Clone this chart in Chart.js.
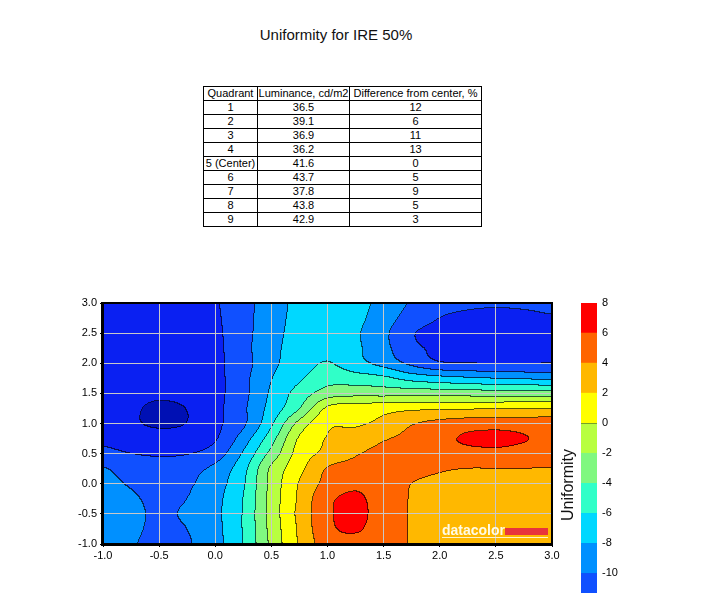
<!DOCTYPE html>
<html>
<head>
<meta charset="utf-8">
<script src="https://cdn.jsdelivr.net/npm/chart.js@4.4.1/dist/chart.umd.min.js"></script>
<style>
body { margin: 0; width: 710px; height: 607px; background: #fff; position: relative; overflow: hidden;
       font-family: 'Liberation Sans', Arial, sans-serif; }
#title { position: absolute; left: 0; width: 672px; top: 26px; text-align: center; font-size: 15px; color: #111; }
#tbl { position: absolute; left: 203px; top: 86px; border-collapse: collapse; table-layout: fixed; width: 278px; font-size: 11px; color: #000; }
#tbl td { border: 1px solid #000; padding: 0; height: 13px; line-height: 13px; text-align: center; white-space: nowrap; overflow: hidden; }
#plot { position: absolute; left: 40px; top: 290px; }
#bar { position: absolute; left: 555px; top: 290px; }
#cbTitle { position: absolute; left: 568px; top: 485px; transform: translate(-50%, -50%) rotate(-90deg);
           font-size: 16px; color: #111; white-space: nowrap; }
</style>
</head>
<body>
<div id="title">Uniformity for IRE 50%</div>
<table id="tbl">
  <colgroup><col style="width:54px"><col style="width:92px"><col style="width:132px"></colgroup>
  <tbody id="tblBody"></tbody>
</table>
<canvas id="plot" width="530" height="280"></canvas>
<canvas id="bar" width="155" height="317"></canvas>
<div id="cbTitle">Uniformity</div>

<script>
// table values
const tableHead = ['Quadrant', 'Luminance, cd/m2', 'Difference from center, %'];
const quadrants = ['1', '2', '3', '4', '5 (Center)', '6', '7', '8', '9'];
const luminance = ['36.5', '39.1', '36.9', '36.2', '41.6', '43.7', '37.8', '43.8', '42.9'];
const difference = ['12', '6', '11', '13', '0', '5', '9', '5', '3'];

// contour field on a 0.25 grid (rows go top to bottom)
const xGrid = [-1, -0.75, -0.5, -0.25, 0, 0.25, 0.5, 0.75, 1, 1.25, 1.5, 1.75, 2, 2.25, 2.5, 2.75, 3];
const yGrid = [3, 2.75, 2.5, 2.25, 2, 1.75, 1.5, 1.25, 1, 0.75, 0.5, 0.25, 0, -0.25, -0.5, -0.75, -1];
const uniformity = [
  [-13.0, -13.1, -13.1, -12.9, -12.2, -10.7, -9.0, -7.5, -7.0, -7.4, -8.6, -10.2, -11.0, -11.5, -11.7, -11.6, -11.4],
  [-13.1, -13.2, -13.3, -13.0, -12.3, -10.7, -8.9, -7.4, -6.9, -7.5, -9.0, -10.9, -12.0, -12.6, -12.8, -12.6, -12.2],
  [-13.2, -13.3, -13.4, -13.1, -12.4, -10.7, -8.75, -7.3, -6.7, -7.7, -9.5, -11.8, -12.5, -13.1, -13.4, -13.3, -12.9],
  [-13.2, -13.4, -13.5, -13.2, -12.5, -10.65, -8.6, -7.2, -6.6, -7.6, -9.4, -11.5, -12.4, -13.0, -13.2, -13.1, -12.7],
  [-13.1, -13.3, -13.4, -13.2, -12.5, -10.8, -8.5, -7.0, -5.9, -7.3, -8.7, -10.5, -11.8, -12.0, -12.1, -12.1, -12.0],
  [-13.0, -13.3, -13.4, -13.1, -12.6, -10.6, -8.1, -6.3, -4.8, -5.1, -5.6, -6.8, -7.4, -7.8, -8.1, -8.3, -8.5],
  [-12.9, -13.3, -13.6, -13.3, -12.6, -10.6, -7.7, -5.2, -3.1, -2.7, -2.8, -2.8, -2.9, -3.0, -3.1, -3.1, -3.2],
  [-12.8, -13.6, -14.4, -13.95, -12.6, -10.4, -7.3, -4.1, 0.3, 0.9, 1.2, 1.5, 1.6, 1.7, 1.8, 1.8, 1.9],
  [-12.7, -13.6, -14.4, -13.95, -12.5, -10.4, -6.4, -1.4, 1.6, 1.7, 2.5, 3.8, 4.5, 4.9, 5.0, 5.0, 5.0],
  [-12.4, -12.9, -13.0, -13.0, -12.2, -9.1, -4.9, 0.2, 2.1, 2.9, 3.8, 4.5, 5.4, 6.3, 6.6, 6.1, 5.6],
  [-11.5, -12.0, -12.2, -12.1, -11.1, -7.8, -3.4, 0.8, 2.5, 3.8, 4.5, 4.7, 5.0, 5.3, 5.4, 5.2, 5.0],
  [-9.9, -10.9, -11.3, -10.7, -9.5, -6.7, -1.7, 1.4, 4.1, 4.7, 4.9, 4.6, 4.2, 4.0, 4.0, 4.0, 3.95],
  [-9.4, -10.2, -10.9, -10.3, -8.9, -6.3, -1.5, 2.1, 4.6, 5.6, 5.0, 4.0, 3.6, 3.4, 3.3, 3.3, 3.3],
  [-9.2, -9.7, -10.5, -10.0, -8.6, -6.0, -1.3, 2.3, 5.5, 6.3, 5.1, 3.9, 3.5, 3.2, 3.1, 3.1, 3.1],
  [-9.1, -9.5, -10.3, -9.7, -8.5, -5.9, -1.3, 2.5, 5.6, 6.5, 5.1, 3.9, 3.5, 3.2, 3.1, 3.1, 3.1],
  [-9.2, -9.6, -10.4, -10.0, -8.6, -5.9, -1.4, 2.3, 5.5, 6.2, 5.0, 3.9, 3.5, 3.2, 3.1, 3.1, 3.1],
  [-9.3, -9.8, -10.6, -10.2, -8.7, -6.0, -1.6, 2.2, 5.0, 5.5, 4.9, 3.9, 3.5, 3.2, 3.1, 3.1, 3.1]
];

// contour levels and their fills
const levels = [-16, -14, -12, -10, -8, -6, -4, -2, 0, 2, 4, 6, 8];
const bandColors = ['#0010b4', '#0a20f2', '#1050ff', '#0090ff', '#00d8ff', '#30ffc8',
                    '#80f880', '#b8ff40', '#ffff00', '#ffb800', '#ff6400', '#ff0000'];

const axisTicks = [-1, -0.5, 0, 0.5, 1, 1.5, 2, 2.5, 3];
const barTicks = [8, 6, 4, 2, 0, -2, -4, -6, -8, -10];
const barMin = -11.3;
const barMax = 8;

// fill the table
const tbody = document.getElementById('tblBody');
const addRow = cells => {
  const tr = document.createElement('tr');
  cells.forEach(c => { const td = document.createElement('td'); td.textContent = c; tr.appendChild(td); });
  tbody.appendChild(tr);
};
addRow(tableHead);
quadrants.forEach((q, i) => addRow([q, luminance[i], difference[i]]));

Chart.defaults.font.family = "'Liberation Sans', Arial, sans-serif";
Chart.defaults.font.size = 11;
Chart.defaults.color = '#000';

function hexRgb(h) {
  return [parseInt(h.slice(1, 3), 16), parseInt(h.slice(3, 5), 16), parseInt(h.slice(5, 7), 16)];
}
const bandRgb = bandColors.map(hexRgb);

function cr(p0, p1, p2, p3, t) {
  return p1 + 0.5 * t * (p2 - p0 + t * (2 * p0 - 5 * p1 + 4 * p2 - p3 + t * (3 * (p1 - p2) + p3 - p0)));
}

// bicubic sample of the grid
function sample(xv, yv) {
  const nx = xGrid.length, ny = yGrid.length;
  const gx = (xv - xGrid[0]) / (xGrid[1] - xGrid[0]);
  const gy = (yGrid[0] - yv) / (yGrid[0] - yGrid[1]);
  const i = Math.min(Math.max(Math.floor(gx), 0), nx - 2);
  const j = Math.min(Math.max(Math.floor(gy), 0), ny - 2);
  const tx = gx - i, ty = gy - j;
  const col = k => Math.min(Math.max(k, 0), nx - 1);
  const row = k => uniformity[Math.min(Math.max(k, 0), ny - 1)];
  const r = [];
  for (let m = -1; m <= 2; m++) {
    const rr = row(j + m);
    r.push(cr(rr[col(i - 1)], rr[col(i)], rr[col(i + 1)], rr[col(i + 2)], tx));
  }
  return cr(r[0], r[1], r[2], r[3], ty);
}

function bandOf(v) {
  let b = 0;
  while (b < bandColors.length - 1 && v >= levels[b + 1]) b++;
  return b;
}

const contourPlugin = {
  id: 'contour',
  beforeDraw(chart) {
    const { ctx, chartArea: a } = chart;
    const xs = chart.scales.x, ys = chart.scales.y;
    const dpr = chart.currentDevicePixelRatio || 1;
    const x0 = Math.round(a.left * dpr), y0 = Math.round(a.top * dpr);
    const w = Math.round(a.right * dpr) - x0, h = Math.round(a.bottom * dpr) - y0;
    const xv = [];
    for (let i = 0; i < w; i++) xv.push(xs.getValueForPixel((x0 + i + 0.5) / dpr));
    const band = new Int16Array(w * h);
    for (let j = 0; j < h; j++) {
      const yv = ys.getValueForPixel((y0 + j + 0.5) / dpr);
      for (let i = 0; i < w; i++) band[j * w + i] = bandOf(sample(xv[i], yv));
    }
    const img = ctx.createImageData(w, h);
    const d = img.data;
    for (let j = 0; j < h; j++) {
      for (let i = 0; i < w; i++) {
        const k = j * w + i;
        const b = band[k];
        let edge = (i < w - 1 && band[k + 1] !== b) || (j < h - 1 && band[k + w] !== b);
        const c = bandRgb[b];
        const f = edge ? 0.35 : 1;
        d[k * 4] = c[0] * f; d[k * 4 + 1] = c[1] * f; d[k * 4 + 2] = c[2] * f; d[k * 4 + 3] = 255;
      }
    }
    ctx.putImageData(img, x0, y0);
  },
  afterDraw(chart) {
    const { ctx, chartArea: a } = chart;
    ctx.save();
    // frame
    ctx.strokeStyle = '#000';
    ctx.lineWidth = 2;
    ctx.strokeRect(a.left, a.top, a.right - a.left, a.bottom - a.top);
    ctx.fillStyle = '#000';
    ctx.fillRect(a.left - 2, a.top - 1, 1, a.bottom - a.top + 3);
    ctx.fillRect(a.left - 2, a.bottom + 1, a.right - a.left + 3, 1);
    // datacolor mark
    ctx.fillStyle = '#fffbe6';
    ctx.font = "bold 14px 'Liberation Sans', Arial, sans-serif";
    ctx.textBaseline = 'alphabetic';
    ctx.fillText('datacolor', a.right - 110, a.bottom - 9);
    ctx.fillStyle = '#e8343c';
    ctx.fillRect(a.right - 47, a.bottom - 16, 43, 7);
    ctx.fillStyle = '#fff4c8';
    ctx.fillRect(a.right - 110, a.bottom - 7, 106, 1);
    ctx.restore();
  }
};

const setTicks = list => scale => { scale.ticks = list.map(v => ({ value: v })); };

new Chart(document.getElementById('plot'), {
  type: 'scatter',
  data: { datasets: [] },
  options: {
    responsive: false,
    animation: false,
    layout: { padding: { left: 0, top: 13, right: 18, bottom: 0 } },
    plugins: { legend: { display: false }, tooltip: { enabled: false } },
    scales: {
      x: {
        type: 'linear', min: -1, max: 3,
        afterBuildTicks: setTicks(axisTicks),
        afterFit: s => { s.height = 26; },
        grid: { color: '#c8c8c8', lineWidth: 1, tickColor: '#000', tickLength: 3 },
        border: { color: '#000', width: 2 },
        ticks: { padding: 2, maxRotation: 0, callback: v => v.toFixed(1) }
      },
      y: {
        type: 'linear', min: -1, max: 3,
        afterBuildTicks: setTicks(axisTicks),
        afterFit: s => { s.width = 63; },
        grid: { color: '#c8c8c8', lineWidth: 1, tickColor: '#000', tickLength: 3 },
        border: { color: '#000', width: 2 },
        ticks: { padding: 3, callback: v => v.toFixed(1) }
      }
    }
  },
  plugins: [contourPlugin]
});

// colour bar: one floating bar per band
const barSets = [];
for (let b = 2; b < bandColors.length; b++) {
  barSets.push({
    data: [[levels[b], levels[b + 1]]],
    backgroundColor: bandColors[b],
    borderWidth: 0,
    barPercentage: 1,
    categoryPercentage: 1,
    grouped: false
  });
}

new Chart(document.getElementById('bar'), {
  type: 'bar',
  data: { labels: [''], datasets: barSets },
  options: {
    responsive: false,
    animation: false,
    layout: { padding: { left: 26, top: 13, right: 0, bottom: 14 } },
    plugins: { legend: { display: false }, tooltip: { enabled: false } },
    scales: {
      x: { display: false },
      y: {
        position: 'right', min: barMin, max: barMax, z: 1,
        afterBuildTicks: setTicks(barTicks),
        afterFit: s => { s.width = 113; },
        grid: { color: '#000', lineWidth: 1, drawTicks: false },
        border: { display: false },
        ticks: { padding: 5, callback: v => String(v) }
      }
    }
  }
});
</script>
</body>
</html>
